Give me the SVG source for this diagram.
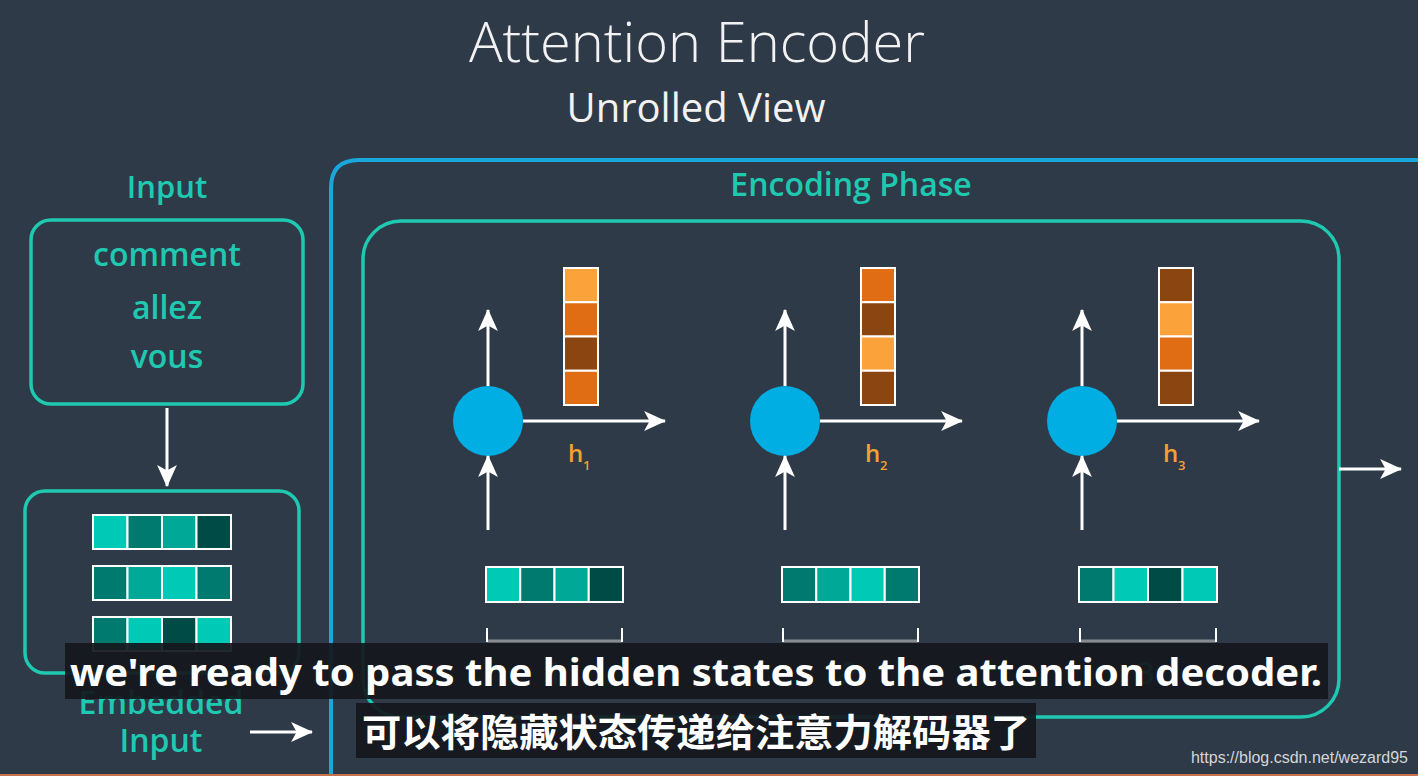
<svg xmlns="http://www.w3.org/2000/svg" width="1418" height="776" viewBox="0 0 1418 776">
<defs>
<style>
.bg{fill:#2e3a48}
.teal{fill:#1fc9b1;font-family:"Open Sans","Noto Sans",sans-serif;font-weight:600;text-anchor:middle}
.box{fill:none;stroke:#1fc9b1;stroke-width:3.5}
.wline{stroke:#ffffff;stroke-width:3;fill:none}
.cell{stroke:#ffffff;stroke-width:2}
.c1{fill:#00c9b5}.c2{fill:#007a6f}.c3{fill:#00a897}.c4{fill:#004b45}
.o1{fill:#fba33a}.o2{fill:#e06c14}.o3{fill:#8b4510}
.rnn{fill:#00aee3}
.hl{fill:#f5a032;font-family:"Open Sans","Noto Sans",sans-serif;font-weight:600}
.brk{stroke:#ffffff;stroke-width:2;fill:none}
.brkb{stroke:#888c90;stroke-width:3;fill:none}
.sub{fill:#14181d;opacity:0.93}
.subt{fill:#ffffff;font-family:"Noto Sans","Noto Sans CJK SC",sans-serif;font-weight:700}
</style>
<marker id="ah2" viewBox="0 0 20 20" refX="19" refY="10" markerWidth="22" markerHeight="22" markerUnits="userSpaceOnUse" orient="auto">
<path d="M0,1 L20,10 L0,19 L5,10 z" fill="#ffffff"/>
</marker>
</defs>
<rect class="bg" x="0" y="0" width="1418" height="776"/>

<g id="title">
<text x="697" y="62" fill="#f2f2f2" font-family="Open Sans, Noto Sans, sans-serif" font-weight="300" font-size="56" text-anchor="middle">Attention Encoder</text>
<text x="696" y="122" fill="#f2f2f2" font-family="Open Sans, Noto Sans, sans-serif" font-weight="400" font-size="40" text-anchor="middle">Unrolled View</text>
</g>

<g id="input">
<text class="teal" x="167" y="198" font-size="31">Input</text>
<rect class="box" x="31" y="220" width="272" height="184" rx="20"/>
<text class="teal" x="167" y="266" font-size="32">comment</text>
<text class="teal" x="167" y="319" font-size="32">allez</text>
<text class="teal" x="167" y="368" font-size="32">vous</text>
</g>

<g id="embedded">
<rect class="box" x="25" y="491" width="274" height="182" rx="20"/>
<g>
<rect class="cell c1" x="93" y="515" width="34.5" height="34"/>
<rect class="cell c2" x="127.5" y="515" width="34.5" height="34"/>
<rect class="cell c3" x="162" y="515" width="34.5" height="34"/>
<rect class="cell c4" x="196.5" y="515" width="34.5" height="34"/>
<rect class="cell c2" x="93" y="566" width="34.5" height="34"/>
<rect class="cell c3" x="127.5" y="566" width="34.5" height="34"/>
<rect class="cell c1" x="162" y="566" width="34.5" height="34"/>
<rect class="cell c2" x="196.5" y="566" width="34.5" height="34"/>
<rect class="cell c2" x="93" y="617" width="34.5" height="34"/>
<rect class="cell c1" x="127.5" y="617" width="34.5" height="34"/>
<rect class="cell c4" x="162" y="617" width="34.5" height="34"/>
<rect class="cell c1" x="196.5" y="617" width="34.5" height="34"/>
</g>
<text class="teal" x="161" y="714" font-size="32">Embedded</text>
<text class="teal" x="161" y="752" font-size="32">Input</text>
</g>

<g id="encoding-phase">
<path d="M331,776 L331,188 Q331,160 359,160 L1418,160" fill="none" stroke="#1aa8dc" stroke-width="4"/>
<text class="teal" x="851" y="196" font-size="32">Encoding Phase</text>
<rect class="box" x="363" y="221" width="976" height="496" rx="38" stroke-width="4"/>
</g>

<g id="cell1">
<circle class="rnn" cx="488" cy="421" r="35"/>
<rect class="cell o1" x="564" y="268" width="34" height="34.25"/>
<rect class="cell o2" x="564" y="302.25" width="34" height="34.25"/>
<rect class="cell o3" x="564" y="336.5" width="34" height="34.25"/>
<rect class="cell o2" x="564" y="370.75" width="34" height="34.25"/>
<text class="hl" x="568" y="462" font-size="24">h</text>
<text class="hl" x="583" y="470" font-size="13">1</text>
<rect class="cell c1" x="486" y="567" width="34.25" height="35"/>
<rect class="cell c2" x="520.25" y="567" width="34.25" height="35"/>
<rect class="cell c3" x="554.5" y="567" width="34.25" height="35"/>
<rect class="cell c4" x="588.75" y="567" width="34.25" height="35"/>
<path class="brkb" d="M487,641 L622,641"/>
<path class="brk" d="M487,628 L487,642 M622,628 L622,642"/>
<text class="teal" x="554" y="684" font-size="30" opacity="0.8">1</text>
</g>

<g id="cell2">
<circle class="rnn" cx="785" cy="421" r="35"/>
<rect class="cell o2" x="861" y="268" width="34" height="34.25"/>
<rect class="cell o3" x="861" y="302.25" width="34" height="34.25"/>
<rect class="cell o1" x="861" y="336.5" width="34" height="34.25"/>
<rect class="cell o3" x="861" y="370.75" width="34" height="34.25"/>
<text class="hl" x="865" y="462" font-size="24">h</text>
<text class="hl" x="880" y="470" font-size="13">2</text>
<rect class="cell c2" x="782" y="567" width="34.25" height="35"/>
<rect class="cell c3" x="816.25" y="567" width="34.25" height="35"/>
<rect class="cell c1" x="850.5" y="567" width="34.25" height="35"/>
<rect class="cell c2" x="884.75" y="567" width="34.25" height="35"/>
<path class="brkb" d="M783,641 L918,641"/>
<path class="brk" d="M783,628 L783,642 M918,628 L918,642"/>
<text class="teal" x="850" y="684" font-size="30" opacity="0.8">2</text>
</g>

<g id="cell3">
<circle class="rnn" cx="1082" cy="421" r="35"/>
<rect class="cell o3" x="1159" y="268" width="34" height="34.25"/>
<rect class="cell o1" x="1159" y="302.25" width="34" height="34.25"/>
<rect class="cell o2" x="1159" y="336.5" width="34" height="34.25"/>
<rect class="cell o3" x="1159" y="370.75" width="34" height="34.25"/>
<text class="hl" x="1163" y="462" font-size="24">h</text>
<text class="hl" x="1178" y="470" font-size="13">3</text>
<rect class="cell c2" x="1079" y="567" width="34.5" height="35"/>
<rect class="cell c1" x="1113.5" y="567" width="34.5" height="35"/>
<rect class="cell c4" x="1148" y="567" width="34.5" height="35"/>
<rect class="cell c1" x="1182.5" y="567" width="34.5" height="35"/>
<path class="brkb" d="M1080,641 L1216,641"/>
<path class="brk" d="M1080,628 L1080,642 M1216,628 L1216,642"/>
<text class="teal" x="1146" y="684" font-size="30" opacity="0.8">3</text>
</g>

<g id="connectors">
<line class="wline" x1="167" y1="408" x2="167" y2="486" marker-end="url(#ah2)"/>
<line class="wline" x1="250" y1="732" x2="312" y2="732" marker-end="url(#ah2)"/>
<line class="wline" x1="488" y1="386" x2="488" y2="310" marker-end="url(#ah2)"/>
<line class="wline" x1="523" y1="421" x2="665" y2="421" marker-end="url(#ah2)"/>
<line class="wline" x1="488" y1="530" x2="488" y2="456" marker-end="url(#ah2)"/>
<line class="wline" x1="785" y1="386" x2="785" y2="310" marker-end="url(#ah2)"/>
<line class="wline" x1="820" y1="421" x2="962" y2="421" marker-end="url(#ah2)"/>
<line class="wline" x1="785" y1="530" x2="785" y2="456" marker-end="url(#ah2)"/>
<line class="wline" x1="1082" y1="386" x2="1082" y2="310" marker-end="url(#ah2)"/>
<line class="wline" x1="1117" y1="421" x2="1259" y2="421" marker-end="url(#ah2)"/>
<line class="wline" x1="1082" y1="530" x2="1082" y2="456" marker-end="url(#ah2)"/>
<line class="wline" x1="1339" y1="469" x2="1401" y2="469" marker-end="url(#ah2)"/>
</g>

<g id="subtitles">
<rect class="sub" x="65" y="643" width="1263" height="56"/>
<text class="subt" x="70" y="686" font-size="38" textLength="1252" lengthAdjust="spacingAndGlyphs">we're ready to pass the hidden states to the attention decoder.</text>
<rect class="sub" x="356" y="703" width="680" height="55"/>
<text class="subt" x="362" y="746" font-size="38" font-family="Noto Sans CJK SC, sans-serif" textLength="668" lengthAdjust="spacingAndGlyphs">可以将隐藏状态传递给注意力解码器了</text>
</g>

<text x="1408" y="763" fill="#d4d6d8" font-family="Liberation Sans, Arial, sans-serif" font-size="16" text-anchor="end">https://blog.csdn.net/wezard95</text>
<rect x="0" y="774" width="1418" height="2" fill="#c8704c"/>
</svg>
